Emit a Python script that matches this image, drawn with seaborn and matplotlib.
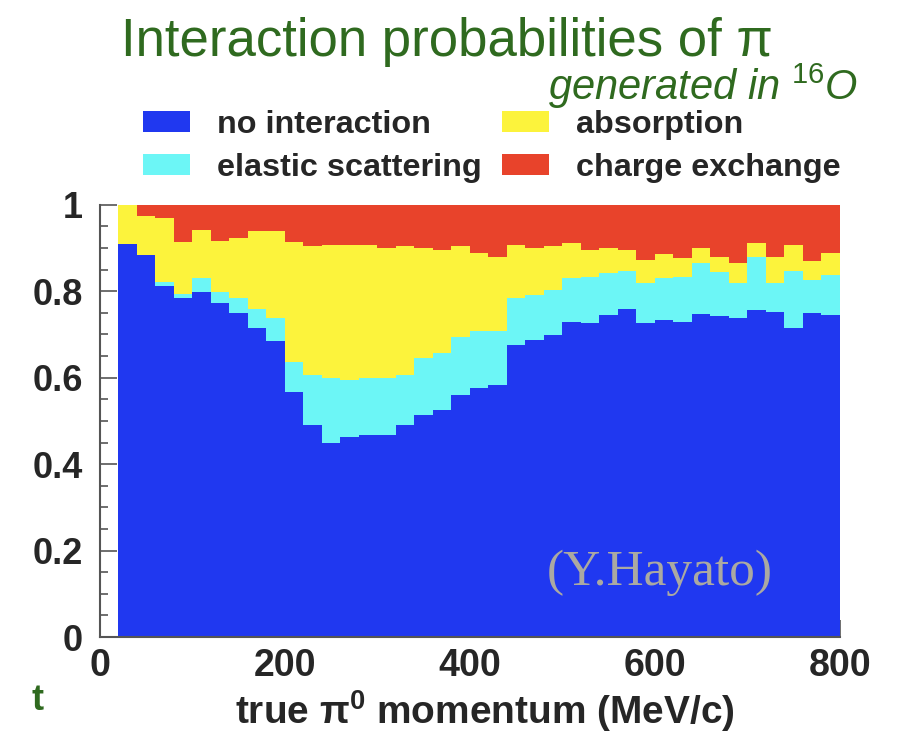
import numpy as np
import pandas as pd
import matplotlib
matplotlib.use('Agg')
import matplotlib.pyplot as plt
from matplotlib.patches import Patch
from matplotlib.ticker import MultipleLocator
import seaborn as sns

# momentum bins (MeV/c), 20 MeV wide, 20..800
bin_edges = list(range(20, 801, 20))
bin_centers = [e + 10 for e in bin_edges[:-1]]

categories = ['no interaction', 'elastic scattering', 'absorption', 'charge exchange']
colors = ['#2038F0', '#6CF6F6', '#FCF33C', '#E8432B']

# fractions per bin
no_interaction = [0.909, 0.884, 0.811, 0.784, 0.799, 0.772, 0.749, 0.715, 0.684, 0.568,
                  0.491, 0.448, 0.464, 0.468, 0.468, 0.491, 0.514, 0.526, 0.560, 0.576,
                  0.583, 0.676, 0.688, 0.699, 0.730, 0.726, 0.745, 0.759, 0.726, 0.734,
                  0.730, 0.748, 0.743, 0.738, 0.757, 0.753, 0.715, 0.749, 0.744]
elastic = [0.000, 0.000, 0.010, 0.009, 0.031, 0.027, 0.035, 0.044, 0.054, 0.069,
           0.115, 0.151, 0.131, 0.131, 0.131, 0.115, 0.131, 0.131, 0.135, 0.131,
           0.124, 0.108, 0.104, 0.104, 0.100, 0.108, 0.097, 0.087, 0.093, 0.096,
           0.104, 0.117, 0.102, 0.081, 0.123, 0.066, 0.131, 0.077, 0.094]
absorption = [0.091, 0.091, 0.148, 0.122, 0.112, 0.118, 0.139, 0.180, 0.202, 0.278,
              0.299, 0.307, 0.311, 0.308, 0.301, 0.298, 0.255, 0.239, 0.209, 0.181,
              0.173, 0.123, 0.108, 0.101, 0.081, 0.062, 0.059, 0.050, 0.054, 0.056,
              0.043, 0.036, 0.035, 0.046, 0.031, 0.061, 0.061, 0.043, 0.050]
charge_exchange = [0.000, 0.025, 0.031, 0.085, 0.058, 0.083, 0.077, 0.061, 0.060, 0.085,
                   0.095, 0.094, 0.094, 0.093, 0.100, 0.096, 0.100, 0.104, 0.096, 0.112,
                   0.120, 0.093, 0.100, 0.096, 0.089, 0.104, 0.099, 0.104, 0.127, 0.114,
                   0.123, 0.099, 0.120, 0.135, 0.089, 0.120, 0.093, 0.131, 0.112]

series = [no_interaction, elastic, absorption, charge_exchange]
df = pd.concat([pd.DataFrame({'momentum': bin_centers, 'frac': s, 'category': c})
                for s, c in zip(series, categories)], ignore_index=True)

sns.set_style('ticks')
plt.rcParams['font.family'] = ['Liberation Sans', 'DejaVu Sans']
plt.rcParams['mathtext.fontset'] = 'custom'
plt.rcParams['mathtext.rm'] = 'Liberation Sans'
plt.rcParams['mathtext.it'] = 'Liberation Sans:italic'
plt.rcParams['mathtext.bf'] = 'Liberation Sans:bold'

fig = plt.figure(figsize=(8.99, 7.34), dpi=100)
ax = fig.add_axes([0.111, 0.132, 0.823, 0.589])

# seaborn stacks the last hue level at the bottom
sns.histplot(data=df, x='momentum', weights='frac', hue='category',
             hue_order=categories[::-1], palette=dict(zip(categories, colors)),
             multiple='stack', bins=bin_edges, element='step', fill=True,
             alpha=1, linewidth=0, legend=False, ax=ax)

ax.set_xlim(0, 800)
ax.set_ylim(0, 1)
ax.set_ylabel('')
ax.set_xlabel(r'true $\mathbf{\pi^0}$ momentum (MeV/c)', fontsize=28, fontweight='bold')
ax.xaxis.set_label_coords(0.52, -0.17)
ax.xaxis.label.set_va('center')
ax.xaxis.set_major_locator(MultipleLocator(200))
ax.xaxis.set_minor_locator(MultipleLocator(50))
ax.yaxis.set_major_locator(MultipleLocator(0.2))
ax.yaxis.set_minor_locator(MultipleLocator(0.05))
ax.set_yticks([0, 0.2, 0.4, 0.6, 0.8, 1.0])
ax.set_yticklabels(['0', '0.2', '0.4', '0.6', '0.8', '1'])
ax.tick_params(which='both', direction='in', color='#555555', width=1.2)
ax.tick_params(which='major', length=12)
ax.tick_params(which='minor', length=6)
ax.tick_params(axis='x', labelsize=27, pad=8)
ax.tick_params(axis='y', labelsize=26, pad=12)
for lab in ax.get_xticklabels() + ax.get_yticklabels():
    lab.set_fontweight('bold')
for side in ['top', 'right']:
    ax.spines[side].set_visible(False)
for side in ['left', 'bottom']:
    ax.spines[side].set_color('#555555')
    ax.spines[side].set_linewidth(1.5)

# titles
fig.text(447 / 899, 1 - 42 / 734, 'Interaction probabilities of π', color='#2F6A1F',
         fontsize=38, ha='center', va='center')
fig.text(858 / 899, 1 - 86 / 734, r'generated in $\mathit{^{16}O}$', color='#2F6A1F',
         fontsize=30, style='italic', ha='right', va='center')

handles = [Patch(facecolor=c, edgecolor='none') for c in colors]
leg = fig.legend(handles, categories, ncol=2, loc='upper left',
                 bbox_to_anchor=(143 / 899, 1 - 110 / 734), frameon=False,
                 prop={'weight': 'bold', 'size': 23.3}, handlelength=1.45, handleheight=0.65,
                 handletextpad=0.85, columnspacing=0.6, labelspacing=0.4, borderpad=0,
                 borderaxespad=0)

ax.text(605, 0.15, '(Y.Hayato)', color='#ABA9A2', fontsize=37, family='Liberation Serif',
        ha='center', va='center')
fig.text(38 / 899, 1 - 700 / 734, 't', color='#2F6A1F', fontsize=26, fontweight='bold',
         ha='center', va='center')

fig.savefig('out.png', dpi=100)
